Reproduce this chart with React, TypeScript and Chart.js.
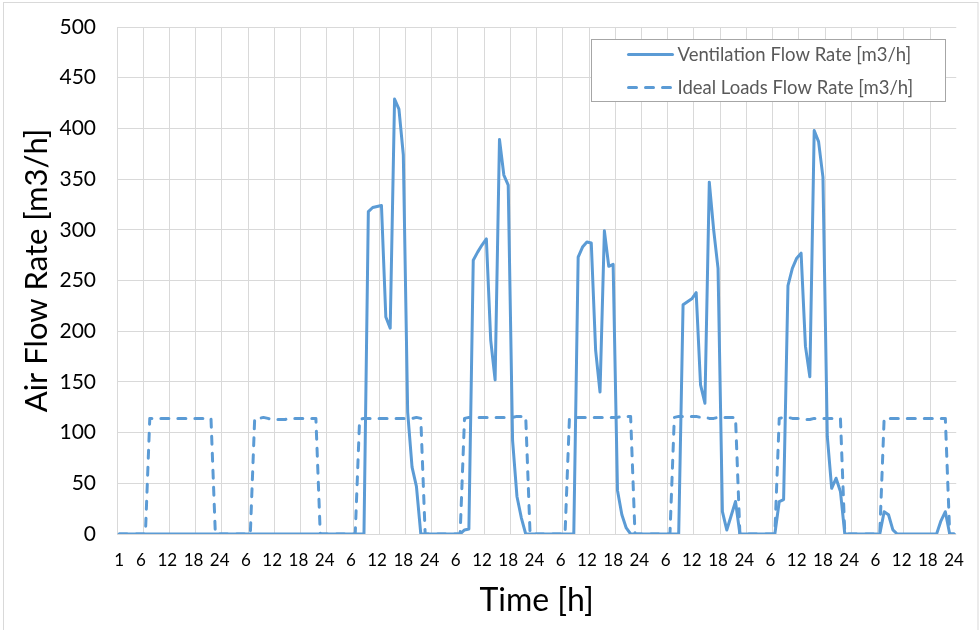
import { useEffect, useRef } from 'react';
import { Chart, registerables } from 'chart.js';

Chart.register(...registerables);

const FONT = 'Lato, "Open Sans", sans-serif';
const LINE_BLUE = '#5b9bd5';
const GRID_GREY = '#d9d9d9';
const TEXT_DARK = '#000000';
const LEGEND_TEXT = '#595959';

const seriesNames = ['Ventilation Flow Rate [m3/h]', 'Ideal Loads Flow Rate [m3/h]'];
const yTitle = 'Air Flow Rate [m3/h]';
const xTitle = 'Time [h]';
const yMin = 0;
const yMax = 500;
const yStep = 50;
const hoursPerDay = 24;
const dayCount = 8;
const labeledHours = [6, 12, 18, 24];

// Hourly ventilation flow, one row per day (hour 1 .. 24)
const ventilationFlow = [
  0, 0, 0, 0, 0, 0, 0, 0, 0, 0, 0, 0, 0, 0, 0, 0, 0, 0, 0, 0, 0, 0, 0, 0,
  0, 0, 0, 0, 0, 0, 0, 0, 0, 0, 0, 0, 0, 0, 0, 0, 0, 0, 0, 0, 0, 0, 0, 0,
  0, 0, 0, 0, 0, 0, 0, 0, 0, 318, 322, 323, 324, 214, 203, 429, 419, 374, 120, 66, 47, 0, 0, 0,
  0, 0, 0, 0, 0, 0, 0, 4, 5, 270, 278, 285, 291, 191, 152, 389, 354, 344, 92, 37, 16, 0, 0, 0,
  0, 0, 0, 0, 0, 0, 0, 0, 0, 273, 283, 288, 287, 181, 140, 299, 264, 266, 43, 19, 6, 0, 0, 0,
  0, 0, 0, 0, 0, 0, 0, 0, 0, 226, 229, 232, 238, 147, 129, 347, 300, 262, 22, 4, 18, 32, 0, 0,
  0, 0, 0, 0, 0, 0, 0, 32, 34, 245, 262, 272, 277, 185, 155, 398, 387, 352, 96, 45, 55, 42, 0, 0,
  0, 0, 0, 0, 0, 0, 0, 22, 19, 4, 0, 0, 0, 0, 0, 0, 0, 0, 0, 0, 13, 22, 0, 0,
];

// Hourly ideal-loads flow, one row per day (hour 1 .. 24)
const idealLoadsFlow = [
  0, 0, 0, 0, 0, 0, 0, 114, 114, 114, 114, 114, 114, 114, 114, 114, 114, 114, 114, 114, 114, 114, 0, 0,
  0, 0, 0, 0, 0, 0, 0, 114, 114, 115, 114, 113, 113, 113, 113, 114, 114, 114, 114, 114, 114, 114, 0, 0,
  0, 0, 0, 0, 0, 0, 0, 113, 114, 114, 114, 114, 114, 114, 114, 114, 114, 114, 114, 114, 115, 114, 0, 0,
  0, 0, 0, 0, 0, 0, 0, 114, 115, 115, 115, 115, 115, 115, 115, 115, 115, 115, 115, 116, 116, 116, 0, 0,
  0, 0, 0, 0, 0, 0, 0, 114, 114, 115, 115, 115, 115, 115, 115, 115, 115, 115, 115, 116, 116, 116, 0, 0,
  0, 0, 0, 0, 0, 0, 0, 115, 116, 116, 116, 116, 116, 115, 115, 114, 114, 115, 115, 115, 115, 115, 0, 0,
  0, 0, 0, 0, 0, 0, 0, 114, 115, 115, 114, 114, 114, 113, 113, 114, 114, 114, 114, 114, 114, 114, 0, 0,
  0, 0, 0, 0, 0, 0, 0, 114, 114, 114, 114, 114, 114, 114, 114, 114, 114, 114, 114, 114, 114, 114, 0, 0,
];

// Category labels: "1" for the very first hour, then 6 / 12 / 18 / 24 of every day
const hourLabels = Array.from({ length: hoursPerDay * dayCount }, (_, i) => {
  const hour = (i % hoursPerDay) + 1;
  if (i === 0) return '1';
  return labeledHours.includes(hour) ? String(hour) : '';
});

// White page, thin grey frame round the whole chart
const chartFrame = {
  id: 'chartFrame',
  beforeDraw(chart: Chart) {
    const { ctx, width, height } = chart;
    ctx.save();
    ctx.fillStyle = '#ffffff';
    ctx.fillRect(0, 0, width, height);
    ctx.strokeStyle = GRID_GREY;
    ctx.lineWidth = 1;
    ctx.strokeRect(3.5, 2.5, width - 5.5, height + 40);
    ctx.restore();
  },
};

// Vertical axis title, set a little above the middle of the plot
const valueAxisTitle = {
  id: 'valueAxisTitle',
  afterDraw(chart: Chart) {
    const { ctx, chartArea } = chart;
    const cy = (chartArea.top + chartArea.bottom) / 2 - 10;
    ctx.save();
    ctx.translate(37, cy);
    ctx.rotate(-Math.PI / 2);
    ctx.font = `31px ${FONT}`;
    ctx.fillStyle = TEXT_DARK;
    ctx.textAlign = 'center';
    ctx.textBaseline = 'middle';
    ctx.fillText(yTitle, 0, 0);
    ctx.restore();
  },
};

// Boxed legend in the upper right of the plot area
const boxLegend = {
  id: 'boxLegend',
  afterDatasetsDraw(chart: Chart) {
    const { ctx, chartArea } = chart;
    const w = 354;
    const h = 62;
    const x = Math.round(chartArea.right - 11 - w) + 0.5;
    const y = Math.round(chartArea.top + 12) + 0.5;
    ctx.save();
    ctx.fillStyle = '#ffffff';
    ctx.fillRect(x, y, w, h);
    ctx.strokeStyle = '#a6a6a6';
    ctx.lineWidth = 1;
    ctx.strokeRect(x, y, w, h);
    ctx.font = `18.5px ${FONT}`;
    ctx.textBaseline = 'middle';
    ctx.textAlign = 'left';
    chart.data.datasets.forEach((ds: any, i: number) => {
      const rowY = y + 15 + i * 33;
      ctx.beginPath();
      ctx.strokeStyle = ds.borderColor;
      ctx.lineWidth = ds.borderWidth;
      ctx.lineCap = ds.borderCapStyle || 'butt';
      ctx.setLineDash(ds.borderDash || []);
      ctx.moveTo(x + 37, rowY);
      ctx.lineTo(x + 81, rowY);
      ctx.stroke();
      ctx.setLineDash([]);
      ctx.fillStyle = LEGEND_TEXT;
      ctx.fillText(String(ds.label), x + 86, rowY + 1);
    });
    ctx.restore();
  },
};

export default function App() {
  const canvasRef = useRef<HTMLCanvasElement | null>(null);

  useEffect(() => {
    const canvas = canvasRef.current;
    if (!canvas) return;
    const chart = new Chart(canvas, {
      type: 'line',
      data: {
        labels: hourLabels,
        datasets: [
          {
            label: seriesNames[0],
            data: ventilationFlow,
            borderColor: LINE_BLUE,
            backgroundColor: LINE_BLUE,
            borderWidth: 3,
            borderJoinStyle: 'round',
            borderCapStyle: 'round',
            pointRadius: 0,
            tension: 0,
            fill: false,
          },
          {
            label: seriesNames[1],
            data: idealLoadsFlow,
            borderColor: LINE_BLUE,
            backgroundColor: LINE_BLUE,
            borderWidth: 3,
            borderDash: [8, 9],
            borderJoinStyle: 'round',
            borderCapStyle: 'round',
            pointRadius: 0,
            tension: 0,
            fill: false,
          },
        ],
      },
      options: {
        responsive: false,
        animation: false,
        devicePixelRatio: 1,
        layout: { padding: { left: 0, top: 27, right: 23, bottom: 0 } },
        plugins: {
          legend: { display: false },
          tooltip: { enabled: false },
        },
        scales: {
          x: {
            type: 'category',
            offset: true,
            afterFit(scale: any) {
              scale.height = 96;
            },
            grid: {
              offset: true,
              drawTicks: false,
              color: (ctx: any) => (ctx.index % 6 === 0 ? GRID_GREY : 'rgba(0,0,0,0)'),
              lineWidth: 1,
            },
            border: { display: false },
            ticks: {
              autoSkip: false,
              maxRotation: 0,
              minRotation: 0,
              padding: 16,
              color: TEXT_DARK,
              font: { family: FONT, size: 17 },
            },
            title: {
              display: true,
              text: xTitle,
              color: TEXT_DARK,
              font: { family: FONT, size: 32 },
              padding: { top: 0, bottom: 10 },
            },
          },
          y: {
            min: yMin,
            max: yMax,
            afterFit(scale: any) {
              scale.width = 117;
            },
            grid: {
              color: GRID_GREY,
              lineWidth: 1,
              drawTicks: true,
              tickLength: 21,
              tickColor: 'rgba(0,0,0,0)',
            },
            border: { display: false },
            ticks: {
              stepSize: yStep,
              padding: 0,
              color: TEXT_DARK,
              font: { family: FONT, size: 21 },
            },
            title: { display: false },
          },
        },
      },
      plugins: [chartFrame, valueAxisTitle, boxLegend],
    });
    return () => chart.destroy();
  }, []);

  return (
    <div style={{ position: 'absolute', left: 0, top: 0, width: 980, height: 630 }}>
      <canvas ref={canvasRef} width={980} height={630} style={{ display: 'block' }} />
    </div>
  );
}
